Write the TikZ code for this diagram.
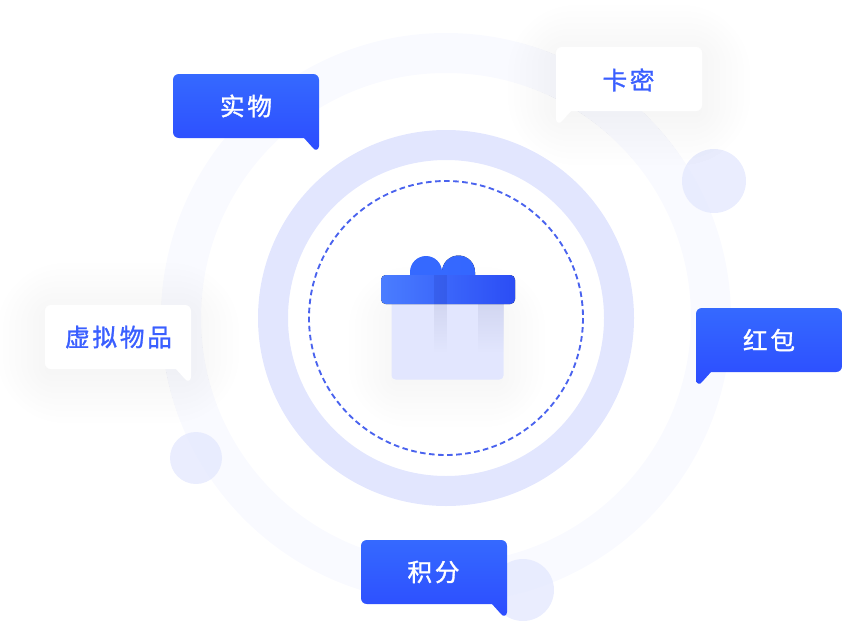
\documentclass[tikz,border=0pt]{standalone}
\usepackage{fontspec}
\newfontfamily\cjkfont[LetterSpace=11,FakeBold=1.2]{Noto Sans CJK SC}
\usetikzlibrary{fadings}

\definecolor{ringfar}{HTML}{F9FAFF}
\definecolor{ringnear}{HTML}{E2E6FE}
\definecolor{dotblue}{HTML}{E6EAFE}
\definecolor{dashblue}{HTML}{4A63EE}
\definecolor{labelblue}{HTML}{3A5FFF}
\definecolor{bubbletop}{HTML}{3569FF}
\definecolor{bubblebot}{HTML}{2C4CFF}
\definecolor{lidleft}{HTML}{4A7DFF}
\definecolor{lidright}{HTML}{2B4DF5}
\definecolor{stripgray}{HTML}{A9AED0}

\tikzset{
    bluebubble/.style={top color=bubbletop, bottom color=bubblebot, draw=none},
    whitebubble/.style={fill=white},
    whitelabel/.style={font=\cjkfont\fontsize{18.5pt}{18.5pt}\selectfont, text=white, inner sep=0pt},
    bluelabel/.style={font=\cjkfont\fontsize{18.5pt}{18.5pt}\selectfont, text=labelblue, inner sep=0pt},
    softdot/.style={fill=dotblue, opacity=0.85}
}

% Bubble outline, tail at the bottom right
\newcommand{\bubbleoutline}{(6,0) -- (140,0) .. controls (143.5,0) and (146,2.5) .. (146,6) -- (146,72) .. controls (146,76) and (142,77) .. (140,74) -- (131,64) -- (6,64) .. controls (2.5,64) and (0,61.5) .. (0,58) -- (0,6) .. controls (0,2.5) and (2.5,0) .. (6,0) -- cycle}

% Soft shadow as stacked rectangles
\newcommand{\softshadow}[5]{
    \foreach \s in {0,6,...,#5}
        \fill[black, opacity=0.004, rounded corners={(\s*1.3+6)*0.75pt}] ({#1-\s},{#2-\s+6}) rectangle ({#3+\s},{#4+\s+6});
}

\begin{document}
\begin{tikzpicture}[x=0.75pt,y=-0.75pt]
    \useasboundingbox (0,0) rectangle (842,621);
    \coordinate (center) at (446,318);

    % Rings
    \draw[ringfar, line width=30pt] (center) circle[radius=265];
    \draw[ringnear, line width=22.5pt] (center) circle[radius=173];
    \draw[dashblue, line width=1.4pt, dash pattern=on 4.2pt off 2.6pt] (center) circle[radius=137];

    % Small circles
    \fill[softdot] (714,181) circle[radius=32];
    \fill[softdot] (196,458) circle[radius=26];
    \fill[softdot] (523,590) circle[radius=31];

    % Gift box
    \softshadow{391}{303}{503}{379}{42}
    \fill[ringnear, rounded corners=3pt] (391.5,300) rectangle (503.5,379.5);
    \fill[stripgray, opacity=0.28, path fading=south] (434,303) rectangle (447,352);
    \fill[stripgray, opacity=0.28, path fading=south] (478,303) rectangle (503.5,352);
    \fill[bubbletop] (410,276) -- (410,272) arc[start angle=180, end angle=360, radius=16] -- (442,276) -- cycle;
    \fill[left color=bubbletop, right color=bubbletop!90!bubblebot] (442,276) -- (442,272) arc[start angle=180, end angle=360, radius=16.5] -- (475,276) -- cycle;
    \fill[left color=lidleft, right color=lidright, rounded corners=3.5pt] (381,275) rectangle (515,304);
    \fill[bubblebot!70!black, opacity=0.2] (434,275) rectangle (447,304);

    % Shadows of the white bubbles
    \softshadow{556}{47}{702}{111}{48}
    \softshadow{45}{305}{191}{369}{48}

    % Bubbles
    \path[bluebubble, shift={(173,74)}] \bubbleoutline;
    \path[whitebubble, shift={(702,47)}, xscale=-1] \bubbleoutline;
    \path[whitebubble, shift={(45,305)}] \bubbleoutline;
    \path[bluebubble, shift={(842,308)}, xscale=-1] \bubbleoutline;
    \path[bluebubble, shift={(361,540)}] \bubbleoutline;

    % Labels
    \node[whitelabel] (shiwu) at (246,106) {实物};
    \node[bluelabel] (kami) at (628.5,80) {卡密};
    \node[bluelabel] (xuni) at (118.5,337) {虚拟物品};
    \node[whitelabel] (hongbao) at (769,340) {红包};
    \node[whitelabel] (jifen) at (433.5,572) {积分};
\end{tikzpicture}
\end{document}
